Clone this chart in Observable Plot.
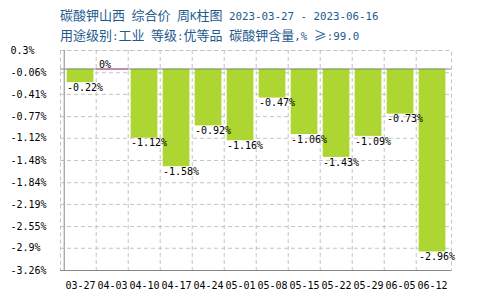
<!DOCTYPE html>
<html>
<head>
<meta charset="utf-8">
<script src="https://cdn.jsdelivr.net/npm/d3@7"></script>
<script src="https://cdn.jsdelivr.net/npm/@observablehq/plot@0.6"></script>
<style>
  body { margin: 0; background: #fff; }
  #wrap { position: relative; width: 500px; height: 300px; overflow: hidden; }
  .t { position: absolute; left: 60px; color: #1e5a8e; white-space: pre; }
  .c { font-family: "Noto Sans CJK SC", sans-serif; font-size: 13px; }
  .m { font-family: "DejaVu Sans Mono", monospace; font-size: 10.8px; }
  #chart { position: absolute; left: 0; top: 0; }
</style>
</head>
<body>
<div id="wrap">
  <div class="t" style="top:5px;line-height:20px"><span class="c">碳酸钾山西</span><span class="m"> </span><span class="c">综合价</span><span class="m"> </span><span class="c">周</span><span class="m">K</span><span class="c">柱图</span><span class="m"> 2023-03-27 - 2023-06-16</span></div>
  <div class="t" style="top:25px;line-height:20px"><span class="c">用途级别</span><span class="m">:</span><span class="c">工业</span><span class="m"> </span><span class="c">等级</span><span class="m">:</span><span class="c">优等品</span><span class="m"> </span><span class="c">碳酸钾含量</span><span class="m">,% </span><span class="c">≥</span><span class="m">:99.0</span></div>
  <div id="chart"></div>
</div>
<script>
const dates = ["03-27","04-03","04-10","04-17","04-24","05-01","05-08","05-15","05-22","05-29","06-05","06-12"];
const values = [-0.22, 0, -1.12, -1.58, -0.92, -1.16, -0.47, -1.06, -1.43, -1.09, -0.73, -2.96];
const yTicks = [0.3, -0.06, -0.41, -0.77, -1.12, -1.48, -1.84, -2.19, -2.55, -2.9, -3.26];

const data = dates.map((d, i) => ({date: d, value: values[i]}));
const slot = (500 - 60 - 49) / dates.length;
const font = "'DejaVu Sans Mono', monospace";

const chart = Plot.plot({
  width: 500,
  height: 300,
  marginLeft: 60,
  marginRight: 49,
  marginTop: 50,
  marginBottom: 30,
  style: {fontFamily: font, fontSize: "10px", color: "#000", background: "transparent"},
  x: {type: "band", domain: dates, paddingInner: 0, paddingOuter: 0, label: null},
  y: {domain: [-3.26, 0.3], label: null},
  marks: [
    Plot.gridY(yTicks, {stroke: "#c4c4c4", strokeOpacity: 1, strokeDasharray: "4,3"}),
    Plot.ruleX(dates.slice(1), {x: d => d, dx: -slot / 2, stroke: "#c4c4c4", strokeDasharray: "4,3"}),
    Plot.frame({stroke: "#c4c4c4", strokeDasharray: "4,3"}),
    Plot.barY(data, {x: "date", y: "value", fill: "#add633", insetLeft: 2.7, insetRight: 2.6}),
    Plot.ruleY([0], {stroke: "#888"}),
    Plot.tickY(data.filter(d => d.value === 0), {x: "date", y: "value", stroke: "#b8709c", strokeWidth: 1.2}),
    Plot.text(data.filter(d => d.value < 0), {x: "date", y: "value", text: d => d.value + "%", textAnchor: "start", lineAnchor: "top", dx: -slot / 2 + 2.7, dy: 1, fill: "#000", fontSize: 10, fontFamily: font}),
    Plot.text(data.filter(d => d.value === 0), {x: "date", y: "value", text: d => d.value + "%", textAnchor: "start", lineAnchor: "bottom", dx: -slot / 2 + 2.7, dy: -1, fill: "#000", fontSize: 10, fontFamily: font}),
    Plot.axisY({ticks: yTicks, tickFormat: d => d + "%", tickSize: 0, tickPadding: 3, textAnchor: "start", dx: -47, fontSize: 10, fontFamily: font}),
    Plot.axisX({tickSize: 0, tickPadding: 11, fontSize: 10, fontFamily: font}),
    Plot.ruleX([0], {x: () => dates[0], dx: -slot / 2, stroke: "#888", y1: -3.26, y2: 0.3}),
    Plot.ruleY([-3.26], {stroke: "#888"})
  ]
});
document.getElementById("chart").appendChild(chart);
</script>
</body>
</html>
